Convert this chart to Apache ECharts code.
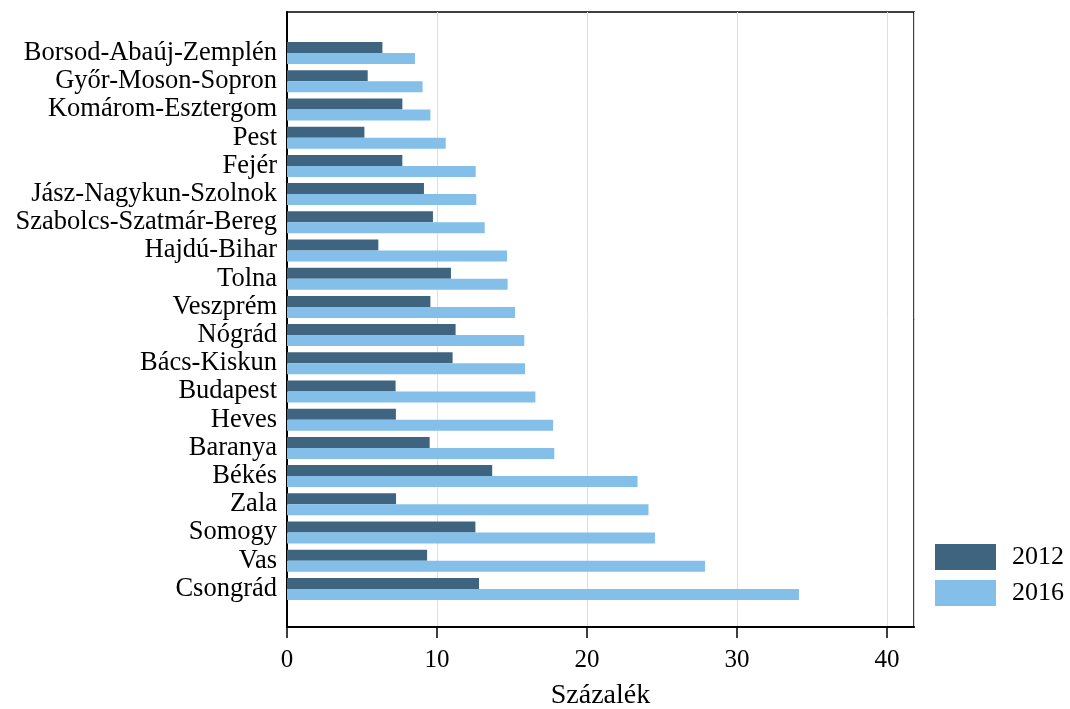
<!DOCTYPE html>
<html>
<head>
    <meta charset="UTF-8">
    <title>Megyék 2012 / 2016</title>
    <style>
        html, body { margin: 0; padding: 0; background: #fff; }
    </style>
</head>
<body>
<div id="main" style="width:1070px; height:709px;"></div>

<script type="text/javascript" src="https://cdn.jsdelivr.net/npm/echarts@6/dist/echarts.min.js"></script>
<script type="text/javascript">

    // megyék, felülről lefelé
    var categories = ["Borsod-Abaúj-Zemplén","Győr-Moson-Sopron","Komárom-Esztergom","Pest","Fejér",
        "Jász-Nagykun-Szolnok","Szabolcs-Szatmár-Bereg","Hajdú-Bihar","Tolna","Veszprém",
        "Nógrád","Bács-Kiskun","Budapest","Heves","Baranya","Békés","Zala","Somogy","Vas","Csongrád"];

    var values2012 = [6.36, 5.38, 7.69, 5.16, 7.69, 9.13, 9.73, 6.09, 10.93, 9.56,
        11.24, 11.04, 7.24, 7.26, 9.51, 13.68, 7.27, 12.56, 9.34, 12.8];

    var values2016 = [8.53, 9.04, 9.56, 10.58, 12.58, 12.62, 13.18, 14.67, 14.71, 15.2,
        15.82, 15.87, 16.56, 17.74, 17.82, 23.37, 24.1, 24.53, 27.87, 34.13];

    var xTicks = [0, 10, 20, 30, 40];

    var serif = 'Liberation Serif';
    var xMax = 41.8;

    var myChart = echarts.init(document.getElementById('main'));

    var option = {
        animation: false,
        textStyle: { fontFamily: serif, color: '#000' },
        // grid 0: keret + x tengely, grid 1: a sávok (belső margóval)
        grid: [
            {
                left: 287, top: 12, right: 156, bottom: 82,
                outerBoundsMode: 'none',
                show: true,
                borderColor: '#000',
                borderWidth: 1.5
            },
            { left: 287, top: 39, right: 156, bottom: 106, outerBoundsMode: 'none' }
        ],
        legend: {
            data: ['2012', '2016'],
            orient: 'vertical',
            left: 930,
            top: 539,
            icon: 'rect',
            itemWidth: 61,
            itemHeight: 26,
            itemGap: 10,
            textStyle: { fontFamily: serif, fontSize: 26, color: '#000', padding: [0, 0, 0, 11] }
        },
        xAxis: [
            {
                gridIndex: 0,
                type: 'value',
                min: 0,
                max: xMax,
                interval: 10,
                name: 'Százalék',
                nameLocation: 'middle',
                nameGap: 55,
                nameTextStyle: { fontFamily: serif, fontSize: 28, color: '#000' },
                axisLine: { show: true, lineStyle: { color: '#000', width: 2 } },
                axisTick: { show: true, length: 11, lineStyle: { color: '#000', width: 1.5 } },
                axisLabel: {
                    fontFamily: serif, fontSize: 25, color: '#000', margin: 21,
                    showMaxLabel: false,
                    formatter: function (v) { return xTicks.indexOf(v) >= 0 ? String(v) : ''; }
                },
                splitLine: { show: true, lineStyle: { color: '#dedede', width: 1 } }
            },
            {
                gridIndex: 1,
                type: 'value',
                min: 0,
                max: xMax,
                show: false
            }
        ],
        yAxis: [
            {
                gridIndex: 0,
                type: 'value',
                axisLine: { show: true, lineStyle: { color: '#000', width: 2 } },
                axisTick: { show: false },
                axisLabel: { show: false },
                splitLine: { show: false }
            },
            {
                gridIndex: 1,
                type: 'category',
                data: categories,
                inverse: true,
                axisLine: { show: false },
                axisTick: { show: false },
                axisLabel: {
                    interval: 0, fontFamily: serif, fontSize: 26.5, color: '#000', margin: 10,
                    padding: [4, 0, 0, 0]
                }
            }
        ],
        series: [
            {
                name: '2012',
                type: 'bar',
                xAxisIndex: 1,
                yAxisIndex: 1,
                data: values2012,
                barGap: '0%',
                barCategoryGap: '22%',
                itemStyle: { color: '#3e6480' }
            },
            {
                name: '2016',
                type: 'bar',
                xAxisIndex: 1,
                yAxisIndex: 1,
                data: values2016,
                barGap: '0%',
                barCategoryGap: '22%',
                itemStyle: { color: '#83bfe9' }
            }
        ]
    };

    myChart.setOption(option);

</script>
</body>
</html>
